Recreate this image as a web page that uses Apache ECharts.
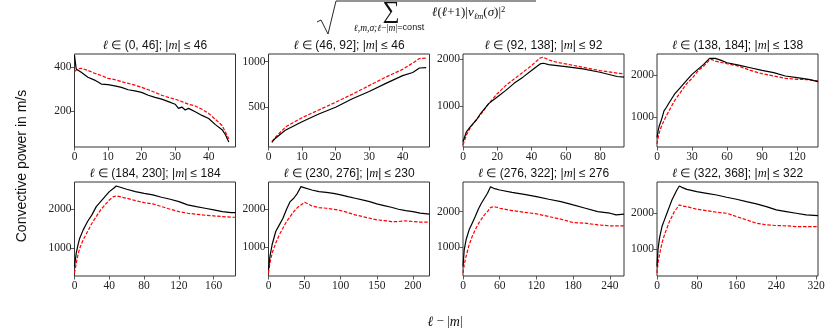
<!DOCTYPE html>
<html><head><meta charset="utf-8">
<script src="https://cdn.jsdelivr.net/npm/echarts@6/dist/echarts.min.js"></script>
<style>html,body{margin:0;padding:0;background:#fff}#c{width:830px;height:332px}</style>
</head><body><div id="c"></div>
<script>
// ---- panel titles (l range, |m| bound) ----
const panelRanges = ['(0, 46]', '(46, 92]', '(92, 138]', '(138, 184]', '(184, 230]', '(230, 276]', '(276, 322]', '(322, 368]'];
const panelMbound = ['46', '46', '92', '138', '184', '230', '276', '322'];

// ---- axis extents and tick labels ----
const xMax = [48, 48, 94, 138, 185, 223, 263, 324];
const xTicks = [[0,10,20,30,40],[0,10,20,30,40],[0,20,40,60,80],[0,30,60,90,120],[0,40,80,120,160],[0,50,100,150,200],[0,60,120,180,240],[0,80,160,240,320]];
const yMin = [36, 55, 140, 270, 285, 252, 204, 234];
const yMax = [460, 1085, 2105, 2515, 2700, 2713, 2824, 2879];
const yTicks = [[200,400],[500,1000],[1000,2000],[1000,2000],[1000,2000],[1000,2000],[1000,2000],[1000,2000]];

// ---- data: black (solid) and red (dashed) per panel ----
const p1BlackX = [0,0.5,2,4,6,8,10,12,14,16,18,20,22,24,26,28,30,31,32,33,34,36,38,40,42,44,45,46];
const p1BlackY = [454,392,377,354,341,323,320,315,308,297,292,285,272,262,254,243,231,212,218,205,212,197,180,166,138,115,92,59];
const p1RedX = [0,1,2,4,6,8,10,12,14,16,18,20,22,24,26,28,30,32,34,36,38,40,42,44,46];
const p1RedY = [380,392,395,385,372,362,349,343,334,326,318,308,297,285,272,262,254,243,231,223,208,189,162,134,74];

const p2BlackX = [1,2,5,10,15,20,25,30,35,40,43,45,47];
const p2BlackY = [105,150,240,335,420,495,590,670,760,845,880,930,935];
const p2RedX = [1,2,5,10,15,20,25,30,35,40,43,45,47];
const p2RedY = [115,160,275,380,465,550,640,735,830,915,985,1035,1040];

const p3BlackX = [0,1,2,4,6,8,10,15,20,25,30,35,40,45,47,50,55,60,70,80,90,94];
const p3BlackY = [252,357,462,553,637,721,833,1056,1196,1336,1490,1616,1755,1895,1909,1881,1860,1839,1790,1720,1630,1616];
const p3RedX = [0,1,2,4,6,8,10,15,20,25,30,35,40,45,47,50,55,60,70,80,90,94];
const p3RedY = [183,287,392,532,637,721,812,1056,1266,1441,1581,1720,1860,2021,2035,1979,1930,1895,1825,1755,1700,1685];

const p4BlackX = [0,1,2,4,6,8,10,15,20,25,30,35,40,45,50,55,60,70,80,90,100,110,120,130,138];
const p4BlackY = [504,664,784,944,1144,1224,1320,1544,1704,1864,2024,2144,2264,2408,2408,2360,2304,2248,2184,2120,2064,1984,1944,1904,1848];
const p4RedX = [0,1,2,4,6,8,10,15,20,25,30,35,40,45,47,50,60,70,80,90,100,110,120,130,138];
const p4RedY = [344,504,624,784,904,1024,1128,1384,1584,1784,1928,2104,2224,2368,2384,2344,2280,2224,2120,2040,1984,1928,1904,1896,1864];

const p5BlackX = [0,2,4,6,10,15,20,25,30,35,40,45,48,50,60,70,80,90,100,110,120,130,140,150,160,170,180,185];
const p5BlackY = [530,872,1085,1256,1470,1684,1855,2068,2197,2325,2453,2538,2598,2564,2513,2453,2410,2368,2308,2256,2197,2111,2068,2026,1983,1940,1915,1915];
const p5RedX = [0,2,4,6,10,15,20,25,30,35,40,45,48,50,60,70,80,90,100,110,120,130,140,150,160,170,180,185];
const p5RedY = [359,615,829,1000,1214,1427,1641,1812,1983,2111,2239,2325,2342,2325,2282,2222,2171,2137,2068,2000,1940,1897,1872,1846,1829,1812,1795,1795];

const p6BlackX = [0,2,5,10,15,20,25,30,35,40,45,48,50,60,70,80,90,100,110,120,130,140,150,160,170,180,190,200,210,223];
const p6BlackY = [417,765,1070,1417,1591,1765,2000,2200,2287,2417,2591,2574,2548,2504,2461,2443,2417,2374,2330,2287,2243,2200,2139,2096,2052,2000,1965,1939,1896,1870];
const p6RedX = [0,2,5,10,15,20,25,30,35,40,45,50,55,60,70,80,90,100,110,120,130,140,150,160,170,180,190,200,210,223];
const p6RedY = [330,591,852,1113,1330,1504,1678,1809,1939,2043,2113,2183,2139,2087,2043,2026,2000,1965,1913,1852,1809,1765,1722,1704,1678,1678,1696,1678,1661,1661];

const p7BlackX = [0,2,5,10,15,20,25,30,35,40,45,48,50,60,80,100,120,140,160,180,200,220,240,250,263];
const p7BlackY = [472,935,1213,1491,1676,1861,2065,2231,2370,2509,2694,2694,2648,2602,2537,2481,2417,2343,2278,2185,2093,2000,1954,1907,1926];
const p7RedX = [0,2,5,10,15,20,25,30,35,40,45,50,55,60,80,100,120,140,160,180,200,220,240,263];
const p7RedY = [287,518,750,1074,1306,1491,1657,1787,1907,2000,2111,2139,2120,2093,2028,1981,1935,1861,1787,1694,1676,1630,1602,1602];

const p8BlackX = [0,2,5,10,15,20,25,30,35,40,45,48,50,60,80,100,120,140,160,180,200,220,240,260,280,300,324];
const p8BlackY = [505,972,1299,1626,1813,2000,2187,2374,2514,2654,2766,2766,2729,2673,2607,2561,2514,2449,2393,2327,2262,2187,2093,2047,2000,1953,1935];
const p8RedX = [0,2,5,10,15,20,25,30,35,40,45,48,50,60,80,100,120,140,160,180,200,220,240,260,280,300,324];
const p8RedY = [318,598,832,1159,1393,1579,1766,1907,2047,2140,2234,2234,2206,2187,2112,2075,2028,2000,1907,1813,1720,1673,1654,1645,1626,1626,1626];

const blackX = [p1BlackX,p2BlackX,p3BlackX,p4BlackX,p5BlackX,p6BlackX,p7BlackX,p8BlackX];
const blackY = [p1BlackY,p2BlackY,p3BlackY,p4BlackY,p5BlackY,p6BlackY,p7BlackY,p8BlackY];
const redX = [p1RedX,p2RedX,p3RedX,p4RedX,p5RedX,p6RedX,p7RedX,p8RedX];
const redY = [p1RedY,p2RedY,p3RedY,p4RedY,p5RedY,p6RedY,p7RedY,p8RedY];

// ---- layout ----
const colLeft = [74.5, 268.5, 463, 657];
const gridW = 161;
const rowTop = [54, 182];
const gridH = [93, 94];

const chart = echarts.init(document.getElementById('c'), null, {renderer: 'canvas'});
const SERIF = '"Liberation Serif", "DejaVu Serif", serif';
const SANS = '"Liberation Sans", Arial, sans-serif';

const grids = [], xAxes = [], yAxes = [], series = [], graphics = [];
for (let i = 0; i < 8; i++) {
  const r = Math.floor(i / 4), c = i % 4;
  grids.push({left: colLeft[c], top: rowTop[r], width: gridW, height: gridH[r], show: true,
    borderColor: '#333', borderWidth: 1, backgroundColor: 'transparent'});
  xAxes.push({type: 'value', gridIndex: i, min: 0, max: xMax[i],
    axisLine: {show: false}, splitLine: {show: false},
    axisTick: {show: true, length: 3.5, lineStyle: {color: '#333', width: 0.8}, customValues: xTicks[i]},
    axisLabel: {customValues: xTicks[i], formatter: v => String(v), fontFamily: SERIF, fontSize: 11.5, color: '#222', margin: 4}});
  yAxes.push({type: 'value', gridIndex: i, min: yMin[i], max: yMax[i],
    axisLine: {show: false}, splitLine: {show: false},
    axisTick: {show: true, length: 3.5, lineStyle: {color: '#333', width: 0.8}, customValues: yTicks[i]},
    axisLabel: {customValues: yTicks[i], formatter: v => String(v), fontFamily: SERIF, fontSize: 11.5, color: '#222', margin: 3}});
  series.push({type: 'line', xAxisIndex: i, yAxisIndex: i, showSymbol: false, symbol: 'none', animation: false,
    data: blackX[i].map((x, k) => [x, blackY[i][k]]), lineStyle: {color: '#000', width: 1.2}, z: 3});
  series.push({type: 'line', xAxisIndex: i, yAxisIndex: i, showSymbol: false, symbol: 'none', animation: false,
    data: redX[i].map((x, k) => [x, redY[i][k]]), lineStyle: {color: '#ff0000', width: 1.2, type: [3.5, 1.6]}, z: 2});
  graphics.push({type: 'text', x: colLeft[c] + gridW / 2, y: rowTop[r] - 8,
    style: {text: '{i|ℓ} ∈ ' + panelRanges[i] + '; |{i|m}| ≤ ' + panelMbound[i],
      font: '12px ' + SANS, fill: '#111', align: 'center', verticalAlign: 'middle',
      rich: {i: {fontFamily: SERIF, fontStyle: 'italic', fontSize: 12.5, fill: '#111'}}}});
}

// y axis label
graphics.push({type: 'text', x: 22, y: 166, rotation: Math.PI / 2,
  style: {text: 'Convective power in m/s', font: '14px ' + SANS, fill: '#111', align: 'center', verticalAlign: 'middle'}});
// x axis label
graphics.push({type: 'text', x: 445, y: 322,
  style: {text: '{i|ℓ} − |{i|m}|', font: '13px ' + SERIF, fill: '#111', align: 'center', verticalAlign: 'middle',
    rich: {i: {fontFamily: SERIF, fontStyle: 'italic', fontSize: 14}}}});
// formula at top
graphics.push({type: 'polyline', shape: {points: [[317, 22], [321, 20], [328, 34], [336, 1], [536, 1]]},
  style: {stroke: '#111', lineWidth: 0.9, fill: null}});
graphics.push({type: 'text', x: 391, y: 12,
  style: {text: '∑', font: '24px ' + SERIF, fill: '#111', align: 'center', verticalAlign: 'middle'}});
graphics.push({type: 'text', x: 389, y: 28,
  style: {text: '{i|ℓ,m,σ;ℓ}−|{i|m}|={c|const}', font: '9.5px ' + SERIF, fill: '#111', align: 'center', verticalAlign: 'middle',
    rich: {i: {fontFamily: SERIF, fontStyle: 'italic', fontSize: 9.5}, c: {fontFamily: SANS, fontSize: 9}}}});
graphics.push({type: 'text', x: 432, y: 13,
  style: {text: '{i|ℓ}{n|(}{i|ℓ}{n|+1)|}{i|v}{s|ℓm}{n|(}{i|σ}{n|)|}{p|2}', font: '13px ' + SERIF, fill: '#111', align: 'left', verticalAlign: 'middle',
    rich: {i: {fontFamily: SERIF, fontStyle: 'italic', fontSize: 13, lineHeight: 18, verticalAlign: 'middle'},
      n: {fontFamily: SERIF, fontSize: 13, lineHeight: 18, verticalAlign: 'middle'},
      s: {fontFamily: SERIF, fontStyle: 'italic', fontSize: 8.5, lineHeight: 18, verticalAlign: 'bottom', padding: [0, 0, 1, 0]},
      p: {fontFamily: SERIF, fontSize: 8.5, lineHeight: 18, verticalAlign: 'top', padding: [1, 0, 0, 0]}}}});

chart.setOption({animation: false, backgroundColor: '#fff', grid: grids, xAxis: xAxes, yAxis: yAxes, series: series, graphic: graphics});
</script></body></html>
